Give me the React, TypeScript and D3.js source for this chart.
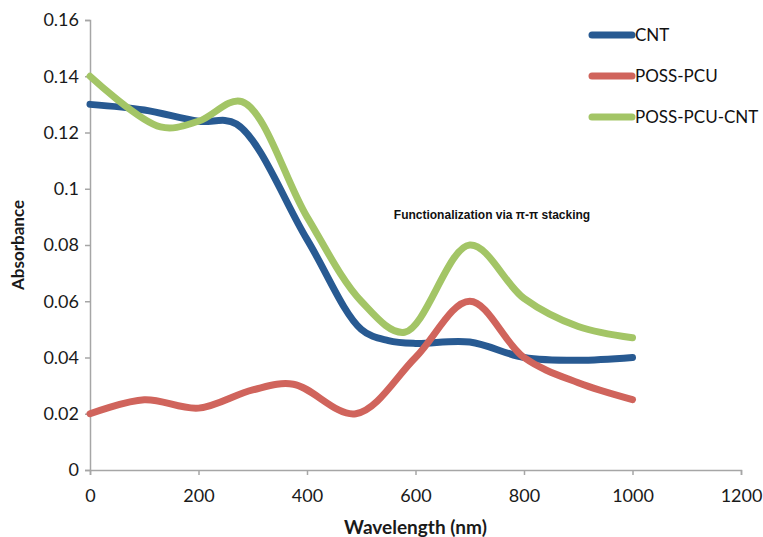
import * as d3 from "d3";
import { useEffect, useRef } from "react";

const WIDTH = 763;
const HEIGHT = 537;

const X_TICKS = [0, 200, 400, 600, 800, 1000, 1200];
const Y_TICKS = [0, 0.02, 0.04, 0.06, 0.08, 0.1, 0.12, 0.14, 0.16];
const Y_TICK_LABELS = ["0", "0.02", "0.04", "0.06", "0.08", "0.1", "0.12", "0.14", "0.16"];

const SERIES_NAMES = ["CNT", "POSS-PCU", "POSS-PCU-CNT"];
const SERIES_COLORS = ["#285a92", "#d0645c", "#a3c566"];

const cntWavelength = [0, 100, 200, 270, 400, 500, 550, 600, 700, 800, 900, 1000];
const cntAbsorbance = [0.13, 0.128, 0.124, 0.123, 0.082, 0.05, 0.046, 0.045, 0.0455, 0.04, 0.039, 0.04];

const pcuWavelength = [0, 100, 200, 300, 375, 490, 600, 700, 800, 900, 1000];
const pcuAbsorbance = [0.02, 0.025, 0.022, 0.0285, 0.0305, 0.02, 0.04, 0.06, 0.04, 0.031, 0.025];

const pcuCntWavelength = [0, 130, 200, 280, 400, 500, 580, 700, 800, 900, 1000];
const pcuCntAbsorbance = [0.14, 0.122, 0.124, 0.131, 0.09, 0.06, 0.049, 0.08, 0.061, 0.051, 0.047];

const ANNOTATION = "Functionalization via π-π stacking";

type Point = { x: number; y: number };

const toPoints = (xs: number[], ys: number[]): Point[] => xs.map((x, i) => ({ x, y: ys[i] }));

const drawChart = (svgElement: SVGSVGElement) => {
  const svg = d3.select(svgElement);
  svg.selectAll("*").remove();

  const margin = { top: 20, right: 22, bottom: 67, left: 90 };
  const width = WIDTH - margin.left - margin.right;
  const height = HEIGHT - margin.top - margin.bottom;

  const xScale = d3.scaleLinear().domain([0, 1200]).range([0, width]);
  const yScale = d3.scaleLinear().domain([0, 0.16]).range([height, 0]);

  const root = svg.append("g").attr("transform", `translate(${margin.left},${margin.top})`);
  const axisColor = "#a6a6a6";

  const yAxis = root
    .append("g")
    .call(
      d3
        .axisLeft(yScale)
        .tickValues(Y_TICKS)
        .tickSize(5)
        .tickPadding(6)
        .tickFormat((_, i) => Y_TICK_LABELS[i])
    );
  yAxis.select(".domain").attr("stroke", axisColor).attr("stroke-width", 1.5);
  yAxis.selectAll(".tick line").attr("stroke", axisColor).attr("stroke-width", 1.5);
  yAxis
    .selectAll("text")
    .style("font-family", "Lato, sans-serif")
    .style("font-size", "18px")
    .attr("fill", "#1a1a1a");

  const xAxis = root
    .append("g")
    .attr("transform", `translate(0,${height})`)
    .call(
      d3
        .axisBottom(xScale)
        .tickValues(X_TICKS)
        .tickSize(5)
        .tickPadding(14)
        .tickFormat((d) => String(d))
    );
  xAxis.select(".domain").attr("stroke", axisColor).attr("stroke-width", 1.5);
  xAxis.selectAll(".tick line").attr("stroke", axisColor).attr("stroke-width", 1.5);
  xAxis
    .selectAll("text")
    .style("font-family", "Lato, sans-serif")
    .style("font-size", "18px")
    .attr("fill", "#1a1a1a");

  root
    .append("text")
    .attr("x", width / 2)
    .attr("y", height + 64)
    .attr("text-anchor", "middle")
    .style("font-family", "Lato, sans-serif")
    .style("font-size", "19px")
    .style("font-weight", "bold")
    .attr("fill", "#1a1a1a")
    .text("Wavelength (nm)");

  root
    .append("text")
    .attr("transform", "rotate(-90)")
    .attr("x", -height / 2)
    .attr("y", -66)
    .attr("text-anchor", "middle")
    .style("font-family", "Lato, sans-serif")
    .style("font-size", "17px")
    .style("font-weight", "bold")
    .attr("fill", "#1a1a1a")
    .text("Absorbance");

  const series = [
    toPoints(cntWavelength, cntAbsorbance),
    toPoints(pcuWavelength, pcuAbsorbance),
    toPoints(pcuCntWavelength, pcuCntAbsorbance),
  ];

  const line = d3
    .line<Point>()
    .x((d) => xScale(d.x))
    .y((d) => yScale(d.y))
    .curve(d3.curveCatmullRom.alpha(0.5));

  root
    .selectAll("path.series")
    .data(series)
    .join("path")
    .attr("class", "series")
    .attr("d", (d) => line(d) ?? "")
    .attr("fill", "none")
    .attr("stroke", (_, i) => SERIES_COLORS[i])
    .attr("stroke-width", 7)
    .attr("stroke-linecap", "round")
    .attr("stroke-linejoin", "round");

  // annotation text sits above the green peak
  root
    .append("text")
    .attr("x", 402)
    .attr("y", 199)
    .attr("text-anchor", "middle")
    .style("font-family", "'Liberation Sans', Arial, sans-serif")
    .style("font-size", "12px")
    .style("font-weight", "bold")
    .attr("fill", "#111")
    .text(ANNOTATION);

  // legend, top right
  const legend = svg.append("g").attr("transform", "translate(592,35)");
  const rows = legend
    .selectAll("g.row")
    .data(SERIES_NAMES)
    .join("g")
    .attr("class", "row")
    .attr("transform", (_, i) => `translate(0,${i * 41})`);

  rows
    .append("line")
    .attr("x1", 0)
    .attr("x2", 40)
    .attr("y1", 0)
    .attr("y2", 0)
    .attr("stroke", (_, i) => SERIES_COLORS[i])
    .attr("stroke-width", 7)
    .attr("stroke-linecap", "round");

  rows
    .append("text")
    .attr("x", 43)
    .attr("y", 0)
    .attr("dy", "0.36em")
    .style("font-family", "Lato, sans-serif")
    .style("font-size", "17px")
    .attr("fill", "#111")
    .text((d) => d);
};

const App = () => {
  const svgRef = useRef<SVGSVGElement | null>(null);

  useEffect(() => {
    if (svgRef.current) drawChart(svgRef.current);
  }, []);

  return (
    <svg
      ref={svgRef}
      width={WIDTH}
      height={HEIGHT}
      style={{ position: "absolute", left: 0, top: 0, background: "white" }}
    />
  );
};

export default App;
